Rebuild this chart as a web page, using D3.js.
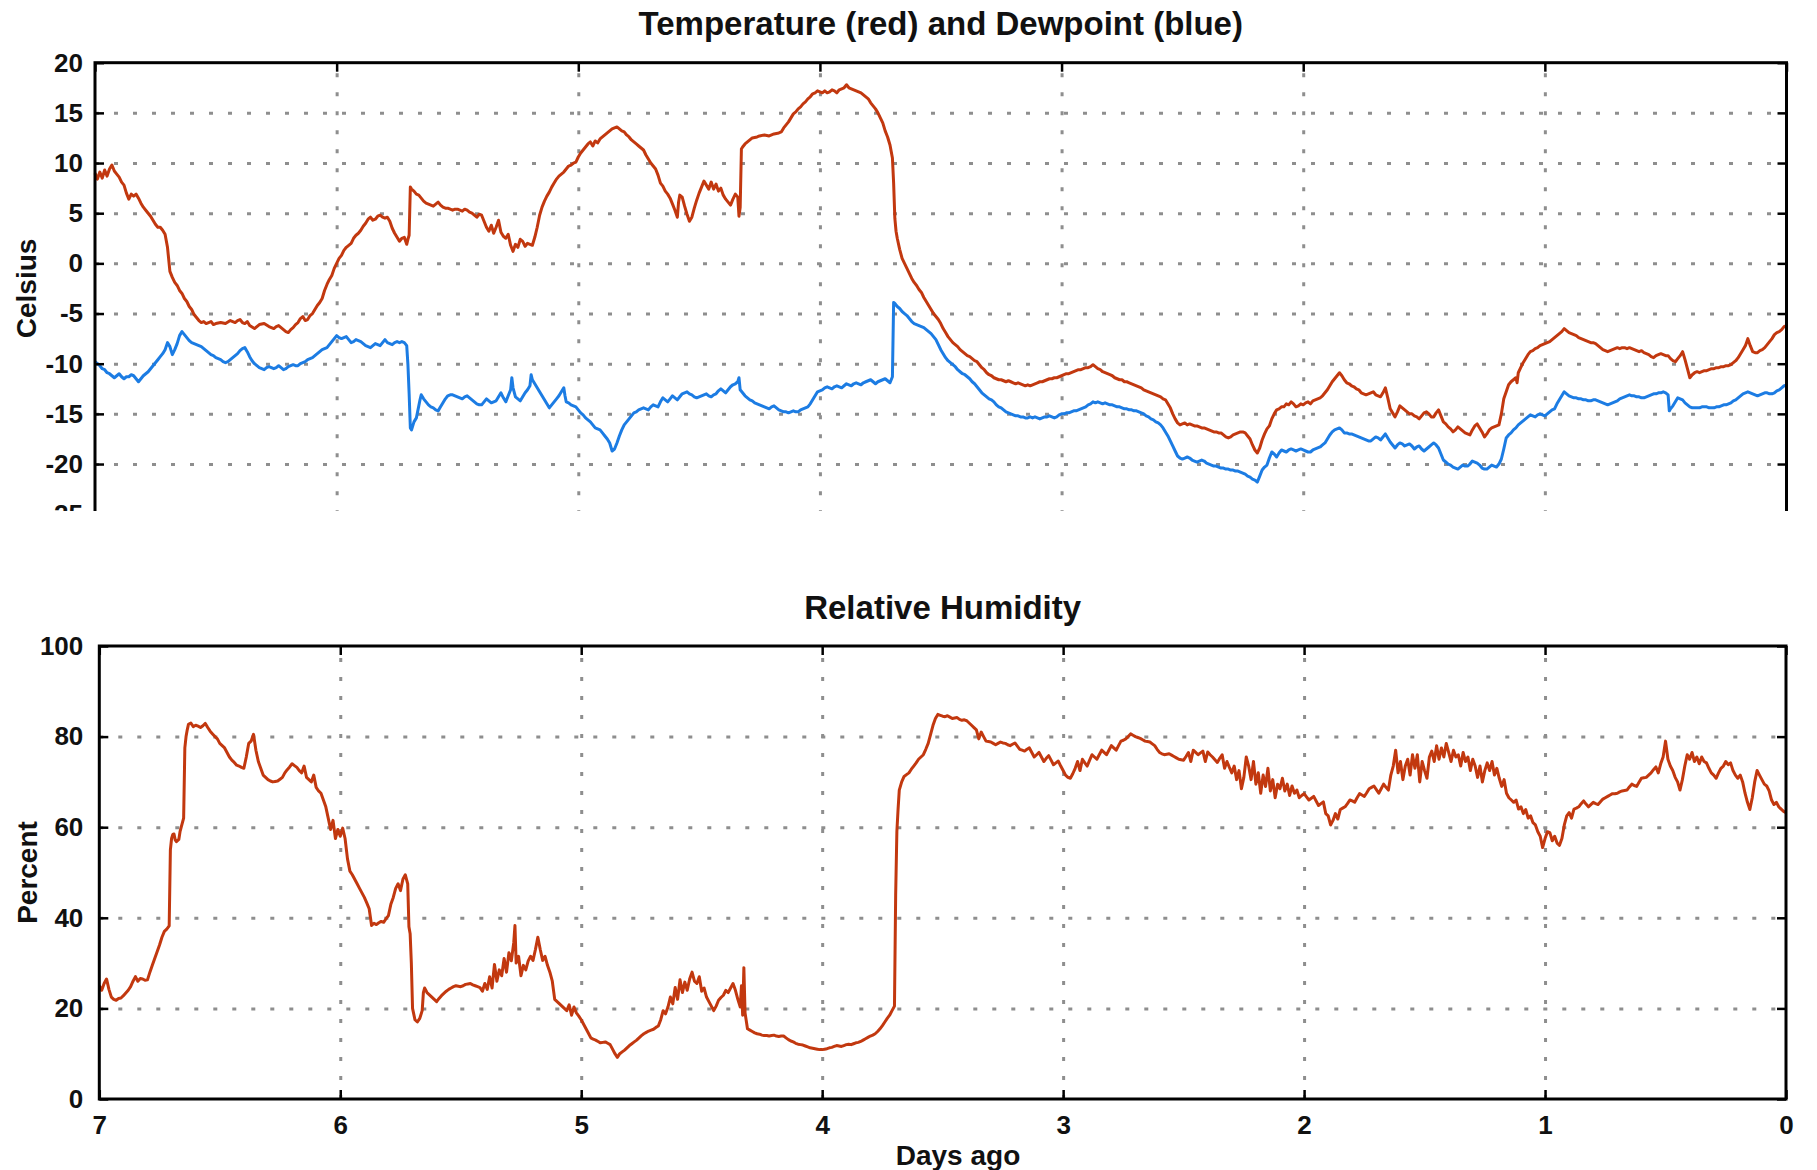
<!DOCTYPE html>
<html>
<head>
<meta charset="utf-8">
<script src="https://cdn.jsdelivr.net/npm/d3@7"></script>
<style>
  html, body { margin: 0; padding: 0; background: #fff; }
  svg { display: block; font-family: "Liberation Sans", Arial, Helvetica, sans-serif; font-weight: bold; }
</style>
</head>
<body>
<svg id="chart" width="1817" height="1170"></svg>
<script>
// Weather station record for the past week, x = days ago.
const dayTicks = [7, 6, 5, 4, 3, 2, 1, 0];
const celsiusTicks = [20, 15, 10, 5, 0, -5, -10, -15, -20, -25];
const percentTicks = [0, 20, 40, 60, 80, 100];

// Air temperature, degrees Celsius: [days ago, value]
const temperature = [
  [7.00,9.0],[6.99,8.4],[6.98,9.1],[6.97,8.5],[6.96,9.3],[6.95,8.7],[6.94,9.4],[6.93,9.8],[6.92,9.2],[6.91,8.9],
  [6.90,8.6],[6.89,8.1],[6.88,7.8],[6.87,7.0],[6.86,6.4],[6.85,6.9],[6.84,6.7],[6.83,6.9],[6.82,6.5],[6.81,6.0],
  [6.80,5.6],[6.79,5.3],[6.78,5.0],[6.77,4.7],[6.76,4.3],[6.75,3.9],[6.74,3.6],[6.73,3.6],[6.72,3.3],[6.71,2.9],
  [6.70,1.6],[6.69,-0.8],[6.68,-1.4],[6.67,-1.9],[6.66,-2.2],[6.65,-2.7],[6.64,-3.0],[6.63,-3.5],[6.62,-3.8],[6.61,-4.3],
  [6.60,-4.6],[6.59,-5.1],[6.58,-5.4],[6.57,-5.7],[6.56,-5.9],[6.55,-5.8],[6.54,-6.0],[6.53,-5.9],[6.52,-5.8],[6.51,-6.1],
  [6.50,-6.0],[6.48,-5.9],[6.46,-6.0],[6.44,-5.7],[6.42,-5.9],[6.41,-5.7],[6.40,-5.6],[6.39,-5.9],[6.38,-6.0],[6.37,-5.8],
  [6.36,-6.2],[6.34,-6.5],[6.33,-6.3],[6.32,-6.1],[6.30,-6.0],[6.28,-6.3],[6.26,-6.5],[6.25,-6.3],[6.24,-6.2],[6.22,-6.6],
  [6.21,-6.8],[6.20,-6.9],[6.19,-6.6],[6.18,-6.4],[6.17,-6.1],[6.16,-5.9],[6.15,-5.5],[6.14,-5.3],[6.13,-5.7],[6.12,-5.6],
  [6.11,-5.2],[6.10,-5.0],[6.09,-4.6],[6.08,-4.2],[6.07,-3.9],[6.06,-3.5],[6.05,-2.7],[6.04,-2.1],[6.03,-1.6],[6.02,-1.2],
  [6.01,-0.5],[6.00,0.0],[5.99,0.5],[5.98,0.8],[5.97,1.3],[5.96,1.6],[5.95,1.8],[5.94,2.0],[5.93,2.5],[5.92,2.8],
  [5.91,3.0],[5.90,3.3],[5.89,3.7],[5.88,4.0],[5.87,4.4],[5.86,4.6],[5.85,4.3],[5.84,4.4],[5.83,4.7],[5.82,4.8],
  [5.81,4.6],[5.80,4.5],[5.79,4.6],[5.78,4.2],[5.77,3.5],[5.76,3.0],[5.75,2.6],[5.74,2.2],[5.73,2.5],[5.72,2.6],
  [5.71,1.9],[5.705,2.4],[5.70,2.8],[5.695,7.6],[5.69,7.4],[5.68,7.2],[5.67,6.9],[5.66,6.8],[5.65,6.5],[5.64,6.2],
  [5.63,6.0],[5.62,5.9],[5.61,5.8],[5.60,5.7],[5.59,5.9],[5.58,6.1],[5.57,5.8],[5.56,5.6],[5.55,5.5],[5.54,5.5],
  [5.53,5.4],[5.52,5.3],[5.51,5.4],[5.50,5.4],[5.49,5.3],[5.48,5.2],[5.47,5.4],[5.46,5.3],[5.45,5.1],[5.44,5.0],
  [5.43,4.8],[5.42,4.6],[5.41,4.9],[5.40,4.8],[5.39,4.2],[5.38,3.6],[5.37,3.2],[5.36,3.8],[5.35,3.0],[5.34,3.6],
  [5.33,4.3],[5.32,3.1],[5.31,2.7],[5.30,2.5],[5.29,2.9],[5.28,1.8],[5.27,1.2],[5.26,1.9],[5.25,1.6],[5.24,2.4],
  [5.23,2.2],[5.22,1.7],[5.21,2.0],[5.20,1.9],[5.19,1.8],[5.18,2.6],[5.17,3.6],[5.16,4.8],[5.15,5.6],[5.14,6.2],
  [5.13,6.7],[5.12,7.1],[5.11,7.6],[5.10,8.0],[5.09,8.4],[5.08,8.7],[5.07,8.9],[5.06,9.1],[5.05,9.4],[5.04,9.7],
  [5.03,9.8],[5.02,10.0],[5.01,10.1],[5.00,10.6],[4.99,11.0],[4.98,11.3],[4.97,11.6],[4.96,11.9],[4.95,12.1],[4.94,11.7],
  [4.93,12.2],[4.92,12.0],[4.91,12.4],[4.90,12.6],[4.89,12.8],[4.88,13.0],[4.87,13.2],[4.86,13.4],[4.85,13.5],[4.84,13.6],
  [4.83,13.4],[4.82,13.2],[4.81,13.1],[4.80,12.8],[4.79,12.6],[4.78,12.3],[4.77,12.1],[4.76,11.9],[4.75,11.7],[4.74,11.5],
  [4.73,11.3],[4.72,10.8],[4.71,10.4],[4.70,10.0],[4.69,9.7],[4.68,9.4],[4.67,8.8],[4.66,8.0],[4.65,7.7],[4.64,7.2],
  [4.63,6.9],[4.62,6.5],[4.61,5.9],[4.60,5.3],[4.59,4.6],[4.585,6.1],[4.58,6.8],[4.57,6.6],[4.56,5.7],[4.55,4.9],
  [4.54,4.2],[4.53,4.6],[4.52,5.5],[4.51,6.3],[4.50,7.0],[4.49,7.6],[4.48,8.2],[4.47,7.8],[4.46,7.4],[4.45,8.1],
  [4.44,7.4],[4.43,7.9],[4.42,7.2],[4.41,7.5],[4.40,6.8],[4.39,6.4],[4.38,6.1],[4.37,5.8],[4.36,6.4],[4.35,6.9],
  [4.34,6.6],[4.335,4.7],[4.33,5.6],[4.325,11.4],[4.32,11.6],[4.31,11.9],[4.30,12.1],[4.29,12.3],[4.28,12.5],[4.26,12.6],
  [4.25,12.7],[4.23,12.8],[4.21,12.7],[4.19,12.9],[4.17,13.0],[4.16,13.1],[4.15,13.5],[4.14,13.8],[4.13,14.1],[4.12,14.5],
  [4.11,14.9],[4.10,15.1],[4.09,15.4],[4.08,15.6],[4.07,15.9],[4.06,16.1],[4.05,16.4],[4.04,16.6],[4.03,16.9],[4.02,17.0],
  [4.01,17.2],[4.00,17.1],[3.99,17.0],[3.98,17.2],[3.97,17.0],[3.96,17.1],[3.95,17.3],[3.94,17.2],[3.93,17.0],[3.92,17.3],
  [3.91,17.4],[3.90,17.5],[3.89,17.8],[3.88,17.5],[3.87,17.4],[3.86,17.3],[3.85,17.2],[3.84,17.1],[3.83,17.0],[3.82,16.8],
  [3.81,16.6],[3.80,16.4],[3.79,16.0],[3.78,15.7],[3.77,15.4],[3.76,15.0],[3.75,14.5],[3.74,14.0],[3.73,13.2],[3.72,12.6],
  [3.71,11.8],[3.70,10.5],[3.695,8.0],[3.69,4.5],[3.685,3.2],[3.68,2.5],[3.67,1.4],[3.66,0.5],[3.65,0.0],[3.64,-0.5],
  [3.63,-1.0],[3.62,-1.5],[3.61,-1.9],[3.60,-2.2],[3.59,-2.6],[3.58,-2.9],[3.57,-3.4],[3.56,-3.8],[3.55,-4.2],[3.54,-4.6],
  [3.53,-5.0],[3.52,-5.3],[3.51,-5.6],[3.50,-6.0],[3.49,-6.5],[3.48,-6.9],[3.47,-7.3],[3.46,-7.6],[3.45,-7.9],[3.44,-8.1],
  [3.43,-8.3],[3.42,-8.6],[3.41,-8.8],[3.40,-9.0],[3.39,-9.2],[3.38,-9.3],[3.37,-9.5],[3.36,-9.7],[3.35,-9.8],[3.34,-10.1],
  [3.33,-10.4],[3.32,-10.6],[3.31,-10.9],[3.30,-11.1],[3.29,-11.2],[3.28,-11.4],[3.27,-11.5],[3.26,-11.6],[3.25,-11.6],[3.24,-11.7],
  [3.23,-11.8],[3.22,-11.7],[3.21,-11.8],[3.20,-11.9],[3.19,-12.0],[3.18,-11.9],[3.17,-12.0],[3.16,-12.1],[3.15,-12.2],[3.14,-12.1],
  [3.13,-12.2],[3.12,-12.1],[3.11,-12.0],[3.10,-11.9],[3.09,-11.8],[3.08,-11.8],[3.07,-11.7],[3.06,-11.6],[3.05,-11.5],[3.04,-11.5],
  [3.03,-11.4],[3.02,-11.4],[3.01,-11.3],[3.00,-11.2],[2.99,-11.1],[2.98,-11.0],[2.97,-11.0],[2.96,-10.9],[2.95,-10.8],[2.94,-10.7],
  [2.93,-10.6],[2.92,-10.6],[2.91,-10.5],[2.90,-10.4],[2.89,-10.4],[2.88,-10.3],[2.87,-10.1],[2.86,-10.3],[2.85,-10.5],[2.84,-10.6],
  [2.83,-10.8],[2.82,-10.9],[2.81,-11.0],[2.80,-11.1],[2.79,-11.2],[2.78,-11.4],[2.77,-11.5],[2.76,-11.6],[2.75,-11.6],[2.74,-11.8],
  [2.73,-11.8],[2.72,-11.9],[2.71,-12.0],[2.70,-12.1],[2.69,-12.2],[2.68,-12.3],[2.67,-12.4],[2.66,-12.6],[2.65,-12.7],[2.64,-12.8],
  [2.63,-12.9],[2.62,-13.0],[2.61,-13.1],[2.60,-13.2],[2.59,-13.3],[2.58,-13.5],[2.57,-13.6],[2.56,-14.0],[2.55,-14.4],[2.54,-15.0],
  [2.53,-15.5],[2.52,-15.9],[2.51,-16.1],[2.50,-16.0],[2.49,-15.9],[2.48,-16.1],[2.47,-16.0],[2.46,-16.1],[2.45,-16.2],[2.44,-16.2],
  [2.43,-16.3],[2.42,-16.4],[2.41,-16.4],[2.40,-16.5],[2.39,-16.6],[2.38,-16.7],[2.37,-16.8],[2.36,-16.8],[2.35,-16.9],[2.34,-16.9],
  [2.33,-17.1],[2.32,-17.3],[2.31,-17.4],[2.30,-17.3],[2.29,-17.1],[2.28,-17.0],[2.27,-16.9],[2.26,-16.8],[2.25,-16.8],[2.24,-16.9],
  [2.23,-17.2],[2.22,-17.5],[2.21,-18.1],[2.20,-18.6],[2.19,-18.9],[2.18,-18.4],[2.17,-17.6],[2.16,-17.0],[2.15,-16.5],[2.14,-16.2],
  [2.13,-15.5],[2.12,-15.0],[2.11,-14.6],[2.10,-14.5],[2.09,-14.3],[2.08,-14.3],[2.07,-14.0],[2.06,-14.1],[2.05,-13.8],[2.04,-14.0],
  [2.03,-14.3],[2.02,-14.2],[2.01,-14.0],[2.00,-14.1],[1.99,-13.9],[1.98,-13.8],[1.97,-14.0],[1.96,-13.7],[1.95,-13.6],[1.94,-13.5],
  [1.93,-13.4],[1.92,-13.2],[1.91,-12.9],[1.90,-12.6],[1.89,-12.2],[1.88,-11.8],[1.87,-11.5],[1.86,-11.2],[1.85,-10.9],[1.84,-11.2],
  [1.83,-11.6],[1.82,-11.9],[1.81,-12.0],[1.80,-12.2],[1.79,-12.3],[1.78,-12.5],[1.77,-12.6],[1.76,-12.9],[1.75,-13.0],[1.74,-13.1],
  [1.73,-13.0],[1.72,-12.9],[1.71,-12.8],[1.70,-13.1],[1.69,-13.2],[1.68,-13.3],[1.67,-12.9],[1.66,-12.4],[1.65,-13.4],[1.64,-14.5],
  [1.63,-14.9],[1.62,-15.3],[1.61,-14.8],[1.60,-14.2],[1.59,-14.4],[1.58,-14.6],[1.57,-14.8],[1.56,-15.0],[1.55,-15.0],[1.54,-15.2],
  [1.53,-15.3],[1.52,-15.5],[1.51,-15.2],[1.50,-14.9],[1.49,-14.8],[1.48,-15.0],[1.47,-15.3],[1.46,-15.3],[1.45,-14.9],[1.44,-14.6],
  [1.43,-15.2],[1.42,-15.8],[1.41,-16.0],[1.40,-16.3],[1.39,-16.5],[1.38,-16.8],[1.37,-16.6],[1.36,-16.3],[1.35,-16.5],[1.34,-16.7],
  [1.33,-16.9],[1.32,-17.0],[1.31,-17.1],[1.30,-16.6],[1.29,-16.2],[1.28,-16.0],[1.27,-16.4],[1.26,-16.8],[1.25,-17.3],[1.24,-17.0],
  [1.23,-16.6],[1.22,-16.4],[1.21,-16.3],[1.20,-16.2],[1.19,-16.1],[1.18,-15.0],[1.17,-13.5],[1.16,-12.8],[1.15,-12.1],[1.14,-11.8],
  [1.13,-11.6],[1.12,-11.4],[1.115,-11.9],[1.11,-10.9],[1.10,-10.4],[1.09,-9.9],[1.08,-9.5],[1.07,-9.1],[1.06,-8.8],[1.05,-8.7],
  [1.04,-8.5],[1.03,-8.4],[1.02,-8.2],[1.01,-8.1],[1.00,-8.0],[0.99,-7.9],[0.98,-7.8],[0.97,-7.6],[0.96,-7.4],[0.95,-7.2],
  [0.94,-7.0],[0.93,-6.8],[0.92,-6.5],[0.91,-6.7],[0.90,-6.9],[0.89,-7.0],[0.88,-7.1],[0.87,-7.2],[0.86,-7.4],[0.85,-7.5],
  [0.84,-7.6],[0.83,-7.7],[0.82,-7.8],[0.81,-7.9],[0.80,-7.9],[0.79,-8.0],[0.78,-8.2],[0.77,-8.4],[0.76,-8.6],[0.75,-8.7],
  [0.74,-8.8],[0.73,-8.7],[0.72,-8.6],[0.71,-8.5],[0.70,-8.4],[0.69,-8.5],[0.68,-8.4],[0.67,-8.4],[0.66,-8.5],[0.65,-8.4],
  [0.64,-8.5],[0.63,-8.6],[0.62,-8.7],[0.61,-8.8],[0.60,-8.7],[0.59,-8.9],[0.58,-9.0],[0.57,-9.1],[0.56,-9.3],[0.55,-9.4],
  [0.54,-9.2],[0.53,-9.1],[0.52,-9.0],[0.51,-9.1],[0.50,-9.2],[0.49,-9.2],[0.48,-9.5],[0.47,-9.7],[0.46,-9.8],[0.45,-9.5],
  [0.44,-9.2],[0.43,-8.8],[0.42,-9.6],[0.41,-10.5],[0.40,-11.4],[0.39,-11.1],[0.38,-10.9],[0.37,-10.8],[0.36,-10.9],[0.35,-10.8],
  [0.34,-10.7],[0.33,-10.7],[0.32,-10.6],[0.31,-10.5],[0.30,-10.5],[0.29,-10.4],[0.28,-10.4],[0.27,-10.3],[0.26,-10.3],[0.25,-10.2],
  [0.24,-10.2],[0.23,-10.1],[0.22,-9.9],[0.21,-9.7],[0.20,-9.4],[0.19,-9.0],[0.18,-8.6],[0.17,-8.2],[0.16,-7.5],[0.15,-8.2],
  [0.14,-8.8],[0.13,-8.9],[0.12,-8.9],[0.11,-8.7],[0.10,-8.6],[0.09,-8.4],[0.08,-8.1],[0.07,-7.8],[0.06,-7.5],[0.05,-7.1],
  [0.04,-6.9],[0.03,-6.8],[0.02,-6.6],[0.01,-6.3],[0.00,-6.2]
];

// Dewpoint, degrees Celsius: [days ago, value]
const dewpoint = [
  [7.00,-9.8],[6.99,-10.0],[6.98,-10.2],[6.97,-10.5],[6.96,-10.6],[6.95,-10.9],[6.94,-11.0],[6.93,-11.2],[6.92,-11.4],[6.91,-11.2],
  [6.90,-11.0],[6.89,-11.3],[6.88,-11.5],[6.87,-11.3],[6.86,-11.3],[6.85,-11.1],[6.84,-11.2],[6.83,-11.5],[6.82,-11.8],[6.81,-11.5],
  [6.80,-11.2],[6.79,-11.0],[6.78,-10.8],[6.77,-10.5],[6.76,-10.2],[6.75,-9.9],[6.74,-9.6],[6.73,-9.3],[6.72,-9.0],[6.71,-8.6],
  [6.70,-7.9],[6.69,-8.3],[6.68,-9.1],[6.67,-8.6],[6.66,-8.0],[6.65,-7.2],[6.64,-6.8],[6.63,-7.1],[6.62,-7.4],[6.61,-7.7],
  [6.60,-7.9],[6.59,-8.0],[6.58,-8.1],[6.57,-8.2],[6.56,-8.3],[6.55,-8.5],[6.54,-8.7],[6.53,-8.9],[6.52,-9.1],[6.51,-9.2],
  [6.50,-9.4],[6.49,-9.5],[6.48,-9.6],[6.47,-9.8],[6.46,-9.9],[6.45,-9.8],[6.44,-9.6],[6.43,-9.4],[6.42,-9.2],[6.41,-9.0],
  [6.40,-8.7],[6.39,-8.5],[6.38,-8.4],[6.37,-8.8],[6.36,-9.3],[6.35,-9.7],[6.34,-10.0],[6.33,-10.2],[6.32,-10.4],[6.31,-10.5],
  [6.30,-10.6],[6.29,-10.4],[6.28,-10.3],[6.27,-10.4],[6.26,-10.5],[6.25,-10.4],[6.24,-10.2],[6.23,-10.4],[6.22,-10.6],[6.21,-10.5],
  [6.20,-10.3],[6.19,-10.2],[6.18,-10.1],[6.17,-10.2],[6.16,-10.2],[6.15,-10.0],[6.14,-9.9],[6.13,-9.8],[6.12,-9.6],[6.11,-9.5],
  [6.10,-9.4],[6.09,-9.2],[6.08,-9.0],[6.07,-8.8],[6.06,-8.6],[6.05,-8.5],[6.04,-8.4],[6.03,-8.1],[6.02,-7.8],[6.01,-7.5],
  [6.00,-7.2],[5.99,-7.4],[5.98,-7.5],[5.97,-7.4],[5.96,-7.3],[5.95,-7.6],[5.94,-7.9],[5.93,-7.8],[5.92,-7.6],[5.91,-7.7],
  [5.90,-7.8],[5.89,-8.0],[5.88,-8.2],[5.87,-8.3],[5.86,-8.4],[5.85,-8.2],[5.84,-8.0],[5.83,-8.1],[5.82,-8.2],[5.81,-7.9],
  [5.80,-7.6],[5.79,-7.9],[5.78,-8.0],[5.77,-8.1],[5.76,-7.9],[5.75,-7.8],[5.74,-7.9],[5.73,-7.8],[5.72,-7.9],[5.71,-8.2],
  [5.705,-10.1],[5.70,-13.0],[5.695,-16.4],[5.69,-16.6],[5.685,-16.2],[5.68,-15.8],[5.675,-15.6],[5.67,-15.4],[5.665,-14.8],[5.66,-14.2],
  [5.655,-13.6],[5.65,-13.1],[5.645,-13.3],[5.64,-13.5],[5.63,-13.8],[5.62,-14.1],[5.61,-14.3],[5.60,-14.4],[5.59,-14.6],[5.58,-14.7],
  [5.57,-14.3],[5.56,-13.9],[5.55,-13.5],[5.54,-13.2],[5.53,-13.1],[5.52,-13.1],[5.51,-13.2],[5.50,-13.3],[5.49,-13.4],[5.48,-13.5],
  [5.47,-13.3],[5.46,-13.2],[5.45,-13.4],[5.44,-13.6],[5.43,-13.8],[5.42,-14.0],[5.41,-14.1],[5.40,-14.1],[5.39,-13.8],[5.38,-13.5],
  [5.37,-13.7],[5.36,-13.9],[5.35,-13.8],[5.34,-13.7],[5.33,-13.3],[5.32,-12.9],[5.31,-13.4],[5.30,-13.8],[5.29,-13.2],[5.28,-12.6],
  [5.275,-11.4],[5.27,-12.4],[5.26,-13.3],[5.25,-13.5],[5.24,-13.7],[5.23,-13.3],[5.22,-12.9],[5.21,-12.6],[5.20,-12.2],[5.195,-11.1],
  [5.19,-11.6],[5.18,-12.0],[5.17,-12.4],[5.16,-12.8],[5.15,-13.2],[5.14,-13.6],[5.13,-14.0],[5.12,-14.4],[5.11,-14.1],[5.10,-13.8],
  [5.09,-13.5],[5.08,-13.2],[5.07,-12.8],[5.06,-12.4],[5.055,-13.2],[5.05,-13.8],[5.04,-13.9],[5.03,-14.1],[5.02,-14.2],[5.01,-14.3],
  [5.00,-14.6],[4.99,-14.9],[4.98,-15.1],[4.97,-15.4],[4.96,-15.6],[4.95,-15.8],[4.94,-16.1],[4.93,-16.4],[4.92,-16.5],[4.91,-16.6],
  [4.90,-16.9],[4.89,-17.2],[4.88,-17.5],[4.87,-17.9],[4.86,-18.7],[4.85,-18.5],[4.84,-17.9],[4.83,-17.2],[4.82,-16.6],[4.81,-16.1],
  [4.80,-15.8],[4.79,-15.5],[4.78,-15.2],[4.77,-14.9],[4.76,-14.8],[4.75,-14.6],[4.74,-14.5],[4.73,-14.4],[4.72,-14.5],[4.71,-14.6],
  [4.70,-14.3],[4.69,-14.1],[4.68,-14.2],[4.67,-14.3],[4.66,-13.8],[4.65,-13.4],[4.64,-13.6],[4.63,-13.8],[4.62,-13.5],[4.61,-13.2],
  [4.60,-13.4],[4.59,-13.6],[4.58,-13.3],[4.57,-13.0],[4.56,-12.9],[4.55,-12.8],[4.54,-13.0],[4.53,-13.1],[4.52,-13.3],[4.51,-13.4],
  [4.50,-13.3],[4.49,-13.2],[4.48,-13.1],[4.47,-13.0],[4.46,-13.2],[4.45,-13.3],[4.44,-13.1],[4.43,-13.0],[4.42,-12.7],[4.41,-12.5],
  [4.40,-12.7],[4.39,-12.9],[4.38,-12.6],[4.37,-12.3],[4.36,-12.1],[4.35,-12.0],[4.34,-11.8],[4.335,-11.4],[4.33,-12.6],[4.32,-12.9],
  [4.31,-13.2],[4.30,-13.4],[4.29,-13.6],[4.28,-13.7],[4.27,-13.9],[4.26,-14.0],[4.25,-14.1],[4.24,-14.2],[4.23,-14.3],[4.22,-14.4],
  [4.21,-14.5],[4.20,-14.3],[4.19,-14.2],[4.18,-14.4],[4.17,-14.6],[4.16,-14.7],[4.15,-14.8],[4.14,-14.8],[4.13,-14.9],[4.12,-14.8],
  [4.11,-14.7],[4.10,-14.8],[4.09,-14.8],[4.08,-14.6],[4.07,-14.5],[4.06,-14.4],[4.05,-14.3],[4.04,-14.0],[4.03,-13.6],[4.02,-13.2],
  [4.01,-12.8],[4.00,-12.7],[3.99,-12.6],[3.98,-12.4],[3.97,-12.3],[3.96,-12.4],[3.95,-12.5],[3.94,-12.3],[3.93,-12.2],[3.92,-12.3],
  [3.91,-12.4],[3.90,-12.2],[3.89,-12.0],[3.88,-12.1],[3.87,-12.2],[3.86,-12.0],[3.85,-11.9],[3.84,-12.0],[3.83,-12.1],[3.82,-11.9],
  [3.81,-11.8],[3.80,-11.7],[3.79,-11.6],[3.78,-11.8],[3.77,-12.0],[3.76,-11.8],[3.75,-11.7],[3.74,-11.6],[3.73,-11.5],[3.72,-11.7],
  [3.71,-11.9],[3.70,-11.3],[3.695,-3.9],[3.69,-4.0],[3.68,-4.3],[3.67,-4.5],[3.66,-4.8],[3.65,-5.0],[3.64,-5.2],[3.63,-5.5],
  [3.62,-5.8],[3.61,-6.0],[3.60,-6.1],[3.59,-6.2],[3.58,-6.3],[3.57,-6.4],[3.56,-6.6],[3.55,-6.8],[3.54,-7.0],[3.53,-7.3],
  [3.52,-7.6],[3.51,-8.1],[3.50,-8.6],[3.49,-9.0],[3.48,-9.4],[3.47,-9.7],[3.46,-9.9],[3.45,-10.1],[3.44,-10.3],[3.43,-10.6],
  [3.42,-10.8],[3.41,-11.0],[3.40,-11.1],[3.39,-11.3],[3.38,-11.5],[3.37,-11.8],[3.36,-12.0],[3.35,-12.3],[3.34,-12.6],[3.33,-12.9],
  [3.32,-13.1],[3.31,-13.3],[3.30,-13.5],[3.29,-13.6],[3.28,-13.8],[3.27,-14.1],[3.26,-14.3],[3.25,-14.4],[3.24,-14.6],[3.23,-14.8],
  [3.22,-14.9],[3.21,-15.0],[3.20,-15.1],[3.19,-15.2],[3.18,-15.2],[3.17,-15.3],[3.16,-15.3],[3.15,-15.4],[3.14,-15.4],[3.13,-15.3],
  [3.12,-15.4],[3.11,-15.3],[3.10,-15.4],[3.09,-15.5],[3.08,-15.4],[3.07,-15.3],[3.06,-15.3],[3.05,-15.2],[3.04,-15.3],[3.03,-15.4],
  [3.02,-15.3],[3.01,-15.1],[3.00,-15.0],[2.99,-15.0],[2.98,-14.9],[2.97,-14.9],[2.96,-14.8],[2.95,-14.7],[2.94,-14.7],[2.93,-14.6],
  [2.92,-14.5],[2.91,-14.4],[2.90,-14.3],[2.89,-14.1],[2.88,-14.0],[2.87,-13.8],[2.86,-13.9],[2.85,-13.8],[2.84,-13.9],[2.83,-14.0],
  [2.82,-13.9],[2.81,-14.0],[2.80,-14.1],[2.79,-14.1],[2.78,-14.2],[2.77,-14.3],[2.76,-14.3],[2.75,-14.4],[2.74,-14.5],[2.73,-14.5],
  [2.72,-14.6],[2.71,-14.6],[2.70,-14.7],[2.69,-14.7],[2.68,-14.8],[2.67,-14.9],[2.66,-15.0],[2.65,-15.2],[2.64,-15.3],[2.63,-15.5],
  [2.62,-15.6],[2.61,-15.8],[2.60,-15.9],[2.59,-16.1],[2.58,-16.4],[2.57,-16.8],[2.56,-17.2],[2.55,-17.7],[2.54,-18.2],[2.53,-18.7],
  [2.52,-19.2],[2.51,-19.4],[2.50,-19.5],[2.49,-19.4],[2.48,-19.3],[2.47,-19.4],[2.46,-19.6],[2.45,-19.7],[2.44,-19.8],[2.43,-19.7],
  [2.42,-19.6],[2.41,-19.7],[2.40,-19.9],[2.39,-20.0],[2.38,-20.1],[2.37,-20.2],[2.36,-20.2],[2.35,-20.3],[2.34,-20.4],[2.33,-20.4],
  [2.32,-20.5],[2.31,-20.5],[2.30,-20.6],[2.29,-20.6],[2.28,-20.7],[2.27,-20.7],[2.26,-20.8],[2.25,-20.9],[2.24,-21.0],[2.23,-21.2],
  [2.22,-21.3],[2.21,-21.5],[2.20,-21.6],[2.19,-21.8],[2.18,-21.2],[2.17,-20.6],[2.16,-20.3],[2.15,-20.1],[2.14,-19.4],[2.13,-18.8],
  [2.12,-19.0],[2.11,-19.3],[2.10,-18.9],[2.09,-18.6],[2.08,-18.7],[2.07,-18.8],[2.06,-18.6],[2.05,-18.5],[2.04,-18.6],[2.03,-18.7],
  [2.02,-18.6],[2.01,-18.5],[2.00,-18.6],[1.99,-18.7],[1.98,-18.8],[1.97,-18.8],[1.96,-18.6],[1.95,-18.5],[1.94,-18.4],[1.93,-18.3],
  [1.92,-18.1],[1.91,-17.9],[1.90,-17.5],[1.89,-17.1],[1.88,-16.8],[1.87,-16.6],[1.86,-16.5],[1.85,-16.4],[1.84,-16.6],[1.83,-16.9],
  [1.82,-16.9],[1.81,-17.0],[1.80,-17.0],[1.79,-17.1],[1.78,-17.2],[1.77,-17.3],[1.76,-17.4],[1.75,-17.5],[1.74,-17.6],[1.73,-17.7],
  [1.72,-17.7],[1.71,-17.5],[1.70,-17.3],[1.69,-17.4],[1.68,-17.6],[1.67,-17.3],[1.66,-17.0],[1.65,-17.4],[1.64,-17.8],[1.63,-18.1],
  [1.62,-18.4],[1.61,-18.1],[1.60,-17.9],[1.59,-18.0],[1.58,-18.2],[1.57,-18.1],[1.56,-18.0],[1.55,-18.2],[1.54,-18.5],[1.53,-18.3],
  [1.52,-18.2],[1.51,-18.5],[1.50,-18.7],[1.49,-18.5],[1.48,-18.3],[1.47,-18.1],[1.46,-17.9],[1.45,-18.1],[1.44,-18.4],[1.43,-19.0],
  [1.42,-19.6],[1.41,-19.8],[1.40,-20.0],[1.39,-20.1],[1.38,-20.3],[1.37,-20.4],[1.36,-20.5],[1.35,-20.3],[1.34,-20.1],[1.33,-20.2],
  [1.32,-20.2],[1.31,-20.0],[1.30,-19.7],[1.29,-19.8],[1.28,-19.9],[1.27,-20.1],[1.26,-20.4],[1.25,-20.5],[1.24,-20.5],[1.23,-20.3],
  [1.22,-20.1],[1.21,-20.2],[1.20,-20.3],[1.19,-20.0],[1.18,-19.5],[1.17,-18.5],[1.16,-17.4],[1.15,-17.1],[1.14,-16.9],[1.13,-16.6],
  [1.12,-16.4],[1.11,-16.1],[1.10,-15.9],[1.09,-15.7],[1.08,-15.5],[1.07,-15.3],[1.06,-15.1],[1.05,-15.2],[1.04,-15.3],[1.03,-15.1],
  [1.02,-15.0],[1.01,-15.1],[1.00,-15.2],[0.99,-15.0],[0.98,-14.8],[0.97,-14.6],[0.96,-14.5],[0.95,-14.0],[0.94,-13.6],[0.93,-13.2],
  [0.92,-12.8],[0.91,-13.0],[0.90,-13.2],[0.89,-13.3],[0.88,-13.4],[0.87,-13.4],[0.86,-13.5],[0.85,-13.5],[0.84,-13.6],[0.83,-13.6],
  [0.82,-13.7],[0.81,-13.7],[0.80,-13.6],[0.79,-13.6],[0.78,-13.7],[0.77,-13.8],[0.76,-13.9],[0.75,-14.0],[0.74,-14.1],[0.73,-14.0],
  [0.72,-13.9],[0.71,-13.8],[0.70,-13.7],[0.69,-13.5],[0.68,-13.4],[0.67,-13.3],[0.66,-13.2],[0.65,-13.1],[0.64,-13.2],[0.63,-13.2],
  [0.62,-13.3],[0.61,-13.3],[0.60,-13.4],[0.59,-13.4],[0.58,-13.3],[0.57,-13.2],[0.56,-13.1],[0.55,-13.0],[0.54,-13.0],[0.53,-12.9],
  [0.52,-12.9],[0.51,-12.8],[0.50,-12.9],[0.49,-13.1],[0.485,-14.7],[0.48,-14.5],[0.47,-14.2],[0.46,-13.8],[0.45,-13.4],[0.44,-13.5],
  [0.43,-13.6],[0.42,-13.9],[0.41,-14.1],[0.40,-14.3],[0.39,-14.4],[0.38,-14.4],[0.37,-14.4],[0.36,-14.4],[0.35,-14.3],[0.34,-14.3],
  [0.33,-14.3],[0.32,-14.4],[0.31,-14.4],[0.30,-14.4],[0.29,-14.3],[0.28,-14.3],[0.27,-14.2],[0.26,-14.1],[0.25,-14.1],[0.24,-14.0],
  [0.23,-13.9],[0.22,-13.7],[0.21,-13.6],[0.20,-13.4],[0.19,-13.2],[0.18,-13.0],[0.17,-12.9],[0.16,-12.8],[0.15,-12.9],[0.14,-13.0],
  [0.13,-13.1],[0.12,-13.2],[0.11,-13.1],[0.10,-13.0],[0.09,-12.9],[0.08,-12.9],[0.07,-13.0],[0.06,-13.0],[0.05,-12.9],[0.04,-12.7],
  [0.03,-12.6],[0.02,-12.4],[0.01,-12.2],[0.00,-12.1]
];

// Relative humidity, percent: [days ago, value]
const humidity = [
  [7.00,25.0],[6.99,24.0],[6.98,25.5],[6.97,26.5],[6.96,24.2],[6.95,22.5],[6.94,22.0],[6.93,21.8],[6.92,22.2],[6.91,22.3],
  [6.90,22.8],[6.89,23.4],[6.88,24.0],[6.87,24.8],[6.86,26.0],[6.85,27.0],[6.84,26.0],[6.83,26.6],[6.82,26.5],[6.81,26.2],
  [6.80,26.3],[6.79,28.0],[6.78,29.5],[6.77,31.0],[6.76,32.5],[6.75,34.0],[6.74,35.7],[6.73,37.0],[6.72,37.5],[6.71,38.2],
  [6.705,55.0],[6.70,57.5],[6.695,58.4],[6.69,58.5],[6.685,57.2],[6.68,56.8],[6.67,57.3],[6.665,59.0],[6.66,60.0],[6.655,61.0],
  [6.65,62.0],[6.645,77.5],[6.64,80.0],[6.635,81.5],[6.63,82.7],[6.62,83.0],[6.61,82.2],[6.60,82.5],[6.59,82.3],[6.58,82.0],
  [6.57,82.4],[6.56,82.9],[6.55,82.0],[6.54,81.2],[6.53,80.6],[6.52,80.0],[6.51,79.5],[6.50,78.5],[6.49,78.0],[6.48,77.5],
  [6.47,76.5],[6.46,75.5],[6.45,74.8],[6.44,74.3],[6.43,73.7],[6.42,73.5],[6.41,73.2],[6.40,73.0],[6.39,75.5],[6.38,78.5],
  [6.37,79.0],[6.36,80.5],[6.35,77.0],[6.34,74.5],[6.33,73.0],[6.32,71.5],[6.31,71.0],[6.30,70.5],[6.29,70.2],[6.28,70.0],
  [6.27,70.1],[6.26,70.2],[6.25,70.6],[6.24,71.0],[6.23,72.0],[6.22,72.7],[6.21,73.3],[6.20,74.0],[6.19,73.6],[6.18,73.2],
  [6.17,72.5],[6.16,72.0],[6.15,73.5],[6.14,71.0],[6.13,70.5],[6.12,70.0],[6.11,71.5],[6.10,68.8],[6.09,68.0],[6.08,67.5],
  [6.07,66.0],[6.06,64.5],[6.05,62.0],[6.04,59.5],[6.03,61.5],[6.02,57.5],[6.01,59.5],[6.00,58.0],[5.99,59.8],[5.98,57.5],
  [5.97,53.0],[5.96,50.3],[5.95,49.5],[5.94,48.5],[5.93,47.5],[5.92,46.5],[5.91,45.5],[5.90,44.5],[5.89,43.3],[5.88,42.0],
  [5.87,38.3],[5.86,38.8],[5.85,38.5],[5.84,38.9],[5.83,39.2],[5.82,39.0],[5.81,39.8],[5.80,40.5],[5.79,43.0],[5.78,44.5],
  [5.77,46.5],[5.76,47.5],[5.75,46.0],[5.74,48.5],[5.73,49.5],[5.72,47.5],[5.715,38.0],[5.71,36.5],[5.705,30.0],[5.70,20.0],
  [5.69,17.5],[5.68,17.0],[5.67,17.8],[5.66,19.5],[5.655,23.5],[5.65,24.5],[5.64,23.5],[5.63,23.0],[5.62,22.5],[5.61,22.0],
  [5.60,21.5],[5.59,22.2],[5.58,22.8],[5.57,23.3],[5.56,23.8],[5.55,24.2],[5.54,24.5],[5.53,24.8],[5.52,25.0],[5.51,24.9],
  [5.50,24.8],[5.49,25.0],[5.48,25.3],[5.47,25.4],[5.46,25.5],[5.45,25.2],[5.44,25.0],[5.43,24.8],[5.42,24.6],[5.41,23.8],
  [5.40,25.5],[5.39,24.2],[5.38,27.0],[5.37,24.5],[5.36,29.7],[5.35,26.0],[5.34,28.5],[5.33,27.2],[5.32,31.0],[5.31,28.0],
  [5.30,32.3],[5.29,30.5],[5.28,34.5],[5.275,38.3],[5.27,30.0],[5.26,31.5],[5.25,27.2],[5.24,29.5],[5.23,28.5],[5.22,30.5],
  [5.21,31.5],[5.20,30.6],[5.19,33.0],[5.18,35.7],[5.17,33.0],[5.16,30.6],[5.15,31.5],[5.14,29.5],[5.13,28.0],[5.12,26.0],
  [5.11,22.0],[5.10,21.5],[5.09,21.0],[5.08,20.5],[5.07,20.0],[5.06,19.5],[5.05,20.8],[5.04,18.5],[5.03,20.3],[5.02,19.0],
  [5.01,18.3],[5.00,17.5],[4.99,16.5],[4.98,15.5],[4.97,14.5],[4.96,13.5],[4.95,13.2],[4.94,13.0],[4.93,12.7],[4.92,12.4],
  [4.91,12.5],[4.90,12.6],[4.89,12.3],[4.88,12.0],[4.87,11.0],[4.86,10.0],[4.85,9.2],[4.84,10.0],[4.83,10.4],[4.82,10.8],
  [4.81,11.3],[4.80,11.8],[4.79,12.2],[4.78,12.6],[4.77,13.0],[4.76,13.5],[4.75,14.0],[4.74,14.4],[4.73,14.7],[4.72,15.0],
  [4.71,15.2],[4.70,15.4],[4.69,15.8],[4.68,16.1],[4.67,17.5],[4.66,19.5],[4.65,18.8],[4.64,20.3],[4.63,22.5],[4.62,21.0],
  [4.61,24.6],[4.60,22.0],[4.59,26.3],[4.58,23.5],[4.57,25.8],[4.56,24.0],[4.55,26.5],[4.54,28.0],[4.53,26.0],[4.52,25.5],
  [4.51,27.0],[4.50,23.8],[4.49,24.5],[4.48,22.5],[4.47,21.5],[4.46,20.5],[4.45,19.5],[4.44,20.5],[4.43,21.8],[4.42,22.4],
  [4.41,22.9],[4.40,24.0],[4.39,23.5],[4.38,24.5],[4.37,25.5],[4.36,24.0],[4.35,22.0],[4.34,20.3],[4.335,25.0],[4.33,18.5],
  [4.325,29.0],[4.32,19.0],[4.31,15.5],[4.30,15.2],[4.29,14.9],[4.28,14.6],[4.27,14.4],[4.26,14.3],[4.25,14.1],[4.24,14.0],
  [4.23,14.0],[4.22,13.9],[4.21,14.0],[4.20,14.1],[4.19,13.9],[4.18,13.8],[4.17,13.9],[4.16,13.9],[4.15,13.5],[4.14,13.1],
  [4.13,12.8],[4.12,12.6],[4.11,12.3],[4.10,12.1],[4.09,12.0],[4.08,11.9],[4.07,11.7],[4.06,11.5],[4.05,11.3],[4.04,11.2],
  [4.03,11.1],[4.02,11.0],[4.01,10.9],[4.00,10.9],[3.99,11.0],[3.98,11.1],[3.97,11.3],[3.96,11.4],[3.95,11.6],[3.94,11.8],
  [3.93,11.7],[3.92,11.6],[3.91,11.8],[3.90,12.0],[3.89,12.1],[3.88,12.0],[3.87,12.2],[3.86,12.4],[3.85,12.5],[3.84,12.7],
  [3.83,13.0],[3.82,13.3],[3.81,13.6],[3.80,13.9],[3.79,14.1],[3.78,14.4],[3.77,14.9],[3.76,15.5],[3.75,16.2],[3.74,17.0],
  [3.73,17.8],[3.72,18.5],[3.71,19.5],[3.70,20.5],[3.695,45.0],[3.69,59.0],[3.685,64.0],[3.68,68.2],[3.67,70.0],[3.66,71.2],
  [3.65,71.6],[3.64,72.0],[3.63,72.8],[3.62,73.5],[3.61,74.2],[3.60,75.0],[3.59,75.5],[3.58,76.0],[3.57,77.2],[3.56,78.5],
  [3.55,80.5],[3.54,82.5],[3.53,84.0],[3.52,84.9],[3.51,84.7],[3.50,84.5],[3.49,84.4],[3.48,84.6],[3.47,84.3],[3.46,84.0],
  [3.45,84.1],[3.44,84.2],[3.43,83.8],[3.42,83.6],[3.41,83.7],[3.40,83.5],[3.39,83.0],[3.38,82.5],[3.37,82.0],[3.36,81.5],
  [3.35,79.5],[3.34,81.0],[3.33,80.0],[3.32,79.0],[3.31,78.9],[3.30,78.8],[3.29,78.5],[3.28,78.2],[3.27,78.5],[3.26,78.8],
  [3.25,78.6],[3.24,78.5],[3.23,78.2],[3.22,78.0],[3.21,78.3],[3.20,78.6],[3.19,77.9],[3.18,77.2],[3.17,77.0],[3.16,76.8],
  [3.15,77.2],[3.14,77.5],[3.13,76.5],[3.12,75.5],[3.11,76.0],[3.10,76.5],[3.09,75.5],[3.08,74.5],[3.07,75.2],[3.06,75.8],
  [3.05,74.8],[3.04,73.8],[3.03,74.2],[3.02,74.6],[3.01,73.5],[3.00,72.5],[2.99,71.5],[2.98,71.0],[2.97,70.8],[2.96,71.8],
  [2.95,73.0],[2.94,74.5],[2.93,72.5],[2.92,75.0],[2.91,74.2],[2.90,73.5],[2.89,74.8],[2.88,76.0],[2.87,75.5],[2.86,75.0],
  [2.85,76.0],[2.84,77.0],[2.83,76.5],[2.82,76.0],[2.81,77.0],[2.80,78.0],[2.79,77.5],[2.78,77.0],[2.77,78.0],[2.76,79.0],
  [2.75,79.2],[2.74,79.5],[2.73,80.0],[2.72,80.6],[2.71,80.3],[2.70,80.0],[2.69,79.8],[2.68,79.6],[2.67,79.3],[2.66,79.0],
  [2.65,78.9],[2.64,78.8],[2.63,78.4],[2.62,78.0],[2.61,77.2],[2.60,76.5],[2.59,76.2],[2.58,76.0],[2.57,76.1],[2.56,76.2],
  [2.55,75.9],[2.54,75.6],[2.53,75.3],[2.52,75.0],[2.51,74.9],[2.50,74.8],[2.49,75.6],[2.48,76.5],[2.47,74.5],[2.46,77.0],
  [2.45,76.5],[2.44,76.0],[2.43,76.4],[2.42,76.8],[2.41,74.5],[2.40,76.6],[2.39,76.0],[2.38,75.5],[2.37,74.9],[2.36,74.3],
  [2.35,75.2],[2.34,76.0],[2.33,73.0],[2.32,74.5],[2.31,73.2],[2.30,72.0],[2.29,73.5],[2.28,70.5],[2.27,72.5],[2.26,68.5],
  [2.25,71.0],[2.24,75.5],[2.23,73.5],[2.22,70.5],[2.21,74.5],[2.20,69.5],[2.19,72.0],[2.18,67.5],[2.17,71.5],[2.16,69.0],
  [2.15,73.0],[2.14,68.0],[2.13,70.5],[2.12,66.5],[2.11,69.5],[2.10,68.5],[2.09,70.8],[2.08,68.0],[2.07,69.5],[2.06,67.0],
  [2.05,69.1],[2.04,67.5],[2.03,68.2],[2.02,66.5],[2.01,67.0],[2.00,67.4],[1.99,66.7],[1.98,66.0],[1.97,66.4],[1.96,66.8],
  [1.95,65.8],[1.94,64.8],[1.93,65.2],[1.92,65.6],[1.91,63.0],[1.90,62.5],[1.89,60.5],[1.88,61.5],[1.87,63.0],[1.86,61.8],
  [1.85,63.9],[1.84,64.2],[1.83,64.5],[1.82,65.2],[1.81,66.0],[1.80,65.8],[1.79,65.5],[1.78,66.5],[1.77,67.4],[1.76,67.1],
  [1.75,66.8],[1.74,67.6],[1.73,68.5],[1.72,68.8],[1.71,69.1],[1.70,68.3],[1.69,67.5],[1.68,68.5],[1.67,69.5],[1.66,68.8],
  [1.65,68.2],[1.64,71.5],[1.63,73.5],[1.62,77.0],[1.61,72.0],[1.60,74.5],[1.59,70.5],[1.58,73.5],[1.57,75.0],[1.56,71.5],
  [1.55,76.0],[1.54,73.0],[1.53,76.0],[1.52,70.0],[1.51,74.5],[1.50,72.5],[1.49,70.8],[1.48,75.5],[1.47,76.8],[1.46,74.5],
  [1.45,78.0],[1.44,75.0],[1.43,77.5],[1.42,75.5],[1.41,78.5],[1.40,76.5],[1.39,74.5],[1.38,77.0],[1.37,75.5],[1.36,76.0],
  [1.35,73.5],[1.34,76.5],[1.33,74.5],[1.32,75.5],[1.31,72.5],[1.30,75.0],[1.29,73.5],[1.28,71.0],[1.27,73.5],[1.26,70.0],
  [1.25,72.5],[1.24,74.2],[1.23,72.5],[1.22,74.5],[1.21,71.5],[1.20,73.0],[1.19,70.8],[1.18,69.0],[1.17,70.5],[1.16,67.5],
  [1.15,66.5],[1.14,66.0],[1.13,65.5],[1.12,66.0],[1.11,64.0],[1.10,64.5],[1.09,63.0],[1.08,63.9],[1.07,62.0],[1.06,62.5],
  [1.05,61.0],[1.04,60.5],[1.03,59.0],[1.02,58.0],[1.01,55.5],[1.00,57.5],[0.99,59.0],[0.98,58.8],[0.97,57.0],[0.96,58.0],
  [0.95,56.5],[0.94,56.0],[0.93,57.5],[0.92,60.5],[0.91,62.5],[0.90,63.2],[0.89,62.0],[0.88,64.0],[0.87,64.2],[0.86,64.5],
  [0.85,65.2],[0.84,65.8],[0.83,65.1],[0.82,64.5],[0.81,65.0],[0.80,65.5],[0.79,65.2],[0.78,65.0],[0.77,65.6],[0.76,66.2],
  [0.75,66.5],[0.74,66.8],[0.73,67.1],[0.72,67.4],[0.71,67.4],[0.70,67.5],[0.69,67.8],[0.68,68.0],[0.67,68.1],[0.66,68.2],
  [0.65,68.9],[0.64,69.5],[0.63,69.2],[0.62,69.0],[0.61,69.9],[0.60,70.8],[0.59,70.9],[0.58,71.0],[0.57,71.5],[0.56,72.0],
  [0.55,72.7],[0.54,73.3],[0.53,72.0],[0.52,74.0],[0.51,75.5],[0.50,79.0],[0.49,75.0],[0.48,73.5],[0.47,72.5],[0.46,71.0],
  [0.45,70.0],[0.44,68.2],[0.43,70.5],[0.42,73.5],[0.41,76.0],[0.40,75.0],[0.39,76.5],[0.38,74.5],[0.37,75.5],[0.36,74.0],
  [0.35,75.5],[0.34,74.5],[0.33,74.2],[0.32,73.0],[0.31,72.0],[0.30,71.5],[0.29,70.8],[0.28,72.0],[0.27,73.0],[0.26,73.5],
  [0.25,74.5],[0.24,73.8],[0.23,74.2],[0.22,72.5],[0.21,71.5],[0.20,70.8],[0.19,71.5],[0.18,70.0],[0.17,67.5],[0.16,65.5],
  [0.15,63.9],[0.14,66.5],[0.13,70.0],[0.12,72.5],[0.11,71.5],[0.10,70.5],[0.09,69.5],[0.08,69.1],[0.07,68.0],[0.06,66.0],
  [0.05,65.0],[0.04,65.5],[0.03,64.5],[0.02,64.0],[0.01,63.5],[0.00,63.2]
];

const RED = "#c2380f";
const BLUE = "#1c7ce3";
// plain integer labels with an ASCII hyphen for negatives
const intLabel = d => String(Math.round(d));

const svg = d3.select("#chart");

// Draws one framed panel with dotted grid, inward ticks and its series.
function drawPanel(opts) {
  const g = svg.append("g");
  if (opts.clipBottom) {
    svg.append("clipPath").attr("id", opts.id + "-clip")
      .append("rect").attr("x", 0).attr("y", 0).attr("width", 1817).attr("height", opts.clipBottom);
    g.attr("clip-path", `url(#${opts.id}-clip)`);
  }

  const x = d3.scaleLinear().domain([7, 0]).range([opts.left, opts.right]);
  const y = d3.scaleLinear().domain(opts.yDomain).range([opts.bottom, opts.top]);
  const w = opts.right - opts.left;
  const h = opts.bottom - opts.top;

  // dotted grid (interior ticks only)
  const innerX = dayTicks.filter(d => d !== 7 && d !== 0);
  const innerY = opts.yTicks.filter(v => v !== opts.yDomain[0] || opts.gridAtMin)
                            .filter(v => v !== opts.yDomain[1]);
  const gridX = g.append("g").attr("transform", `translate(0,${opts.bottom})`)
    .call(d3.axisBottom(x).tickValues(innerX).tickSize(-h).tickFormat(""));
  const gridY = g.append("g").attr("transform", `translate(${opts.left},0)`)
    .call(d3.axisLeft(y).tickValues(innerY).tickSize(-w).tickFormat(""));
  [gridX, gridY].forEach(sel => {
    sel.select(".domain").remove();
    sel.selectAll("line").attr("stroke", "#8e8e8e").attr("stroke-width", 3)
      .attr("stroke-dasharray", "4 15");
  });

  // data lines
  const line = d3.line().x(d => x(d[0])).y(d => y(d[1]));
  opts.series.forEach(s => {
    g.append("path").datum(s.data)
      .attr("fill", "none").attr("stroke", s.color).attr("stroke-width", 3)
      .attr("stroke-linejoin", "round").attr("d", line);
  });

  // inward tick marks on all four sides + labels on left/bottom
  const tick = 9;
  const left = g.append("g").attr("transform", `translate(${opts.left},0)`)
    .call(d3.axisLeft(y).tickValues(opts.yTicks).tickSize(-tick).tickPadding(opts.yPad).tickFormat(intLabel));
  const right = g.append("g").attr("transform", `translate(${opts.right},0)`)
    .call(d3.axisRight(y).tickValues(opts.yTicks).tickSize(-tick).tickFormat(""));
  const top = g.append("g").attr("transform", `translate(0,${opts.top})`)
    .call(d3.axisTop(x).tickValues(dayTicks).tickSize(-tick).tickFormat(""));
  const axes = [left, right, top];
  if (opts.xLabels) {
    const bottom = g.append("g").attr("transform", `translate(0,${opts.bottom})`)
      .call(d3.axisBottom(x).tickValues(dayTicks).tickSize(-tick).tickPadding(17).tickFormat(intLabel));
    axes.push(bottom);
  }
  axes.forEach(a => {
    a.select(".domain").remove();
    a.selectAll("line").attr("stroke", "#000").attr("stroke-width", 2.5);
    a.selectAll("text").attr("fill", "#111").attr("font-size", 26)
      .attr("font-weight", "bold").attr("font-family", "'Liberation Sans', Arial, sans-serif");
  });

  // frame
  g.append("rect").attr("x", opts.left).attr("y", opts.top)
    .attr("width", w).attr("height", h)
    .attr("fill", "none").attr("stroke", "#000").attr("stroke-width", 3);

  // titles
  svg.append("text").attr("x", (opts.left + opts.right) / 2).attr("y", opts.titleY)
    .attr("text-anchor", "middle").attr("font-size", 33).attr("fill", "#111")
    .text(opts.title);
  svg.append("text").attr("transform", `translate(${opts.yLabelX},${(opts.top + opts.bottom) / 2}) rotate(-90)`)
    .attr("text-anchor", "middle").attr("font-size", 28).attr("fill", "#111")
    .text(opts.yLabel);
  return { x, y };
}

drawPanel({
  id: "temp", left: 95, right: 1786.5, top: 62.7, bottom: 514.2,
  yDomain: [-25, 20], yTicks: celsiusTicks, yPad: 12, gridAtMin: true,
  clipBottom: 511, xLabels: false,
  title: "Temperature (red) and Dewpoint (blue)", titleY: 35,
  yLabel: "Celsius", yLabelX: 36,
  series: [{ data: temperature, color: RED }, { data: dewpoint, color: BLUE }]
});

drawPanel({
  id: "rh", left: 99.3, right: 1786, top: 646, bottom: 1099,
  yDomain: [0, 100], yTicks: percentTicks, yPad: 16, gridAtMin: false,
  xLabels: true,
  title: "Relative Humidity", titleY: 619,
  yLabel: "Percent", yLabelX: 37,
  series: [{ data: humidity, color: RED }]
});

svg.append("text").attr("x", 958).attr("y", 1165)
  .attr("text-anchor", "middle").attr("font-size", 28).attr("fill", "#111")
  .text("Days ago");
</script>
</body>
</html>
